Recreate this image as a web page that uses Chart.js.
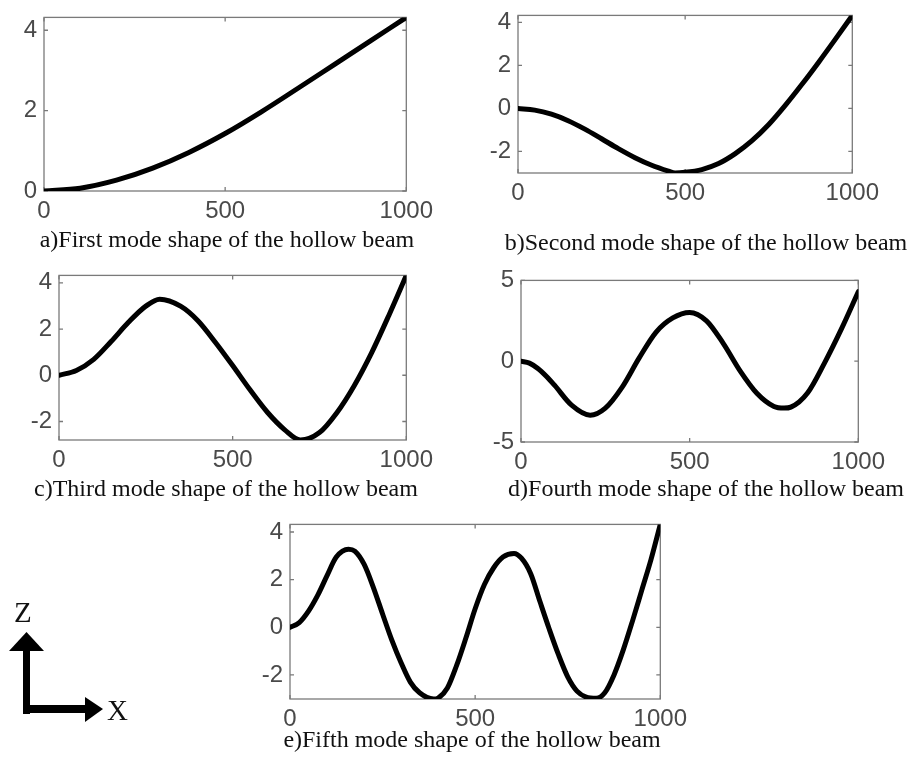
<!DOCTYPE html>
<html>
<head>
<meta charset="utf-8">
<script src="https://cdn.jsdelivr.net/npm/chart.js@4"></script>
<style>
  html, body { margin: 0; padding: 0; background: #fff; }
  #page { position: relative; width: 912px; height: 759px; overflow: hidden; }
  canvas { position: absolute; }
  .cap { position: absolute; font-family: "Liberation Serif", "Times New Roman", serif; font-size: 24px;
         line-height: 24px; color: #111; white-space: nowrap; transform: translateX(-50%); }
  .axlab { position: absolute; font-family: "Liberation Serif", "Times New Roman", serif; font-size: 29px;
           line-height: 29px; color: #111; }
</style>
</head>
<body>
<div id="page">
  <canvas id="modeA"></canvas>
  <canvas id="modeB"></canvas>
  <canvas id="modeC"></canvas>
  <canvas id="modeD"></canvas>
  <canvas id="modeE"></canvas>

  <div class="cap" style="left:227px; top:227px;">a)First mode shape of the hollow beam</div>
  <div class="cap" style="left:706px; top:230px;">b)Second mode shape of the hollow beam</div>
  <div class="cap" style="left:226px; top:476px;">c)Third mode shape of the hollow beam</div>
  <div class="cap" style="left:706px; top:476px;">d)Fourth mode shape of the hollow beam</div>
  <div class="cap" style="left:472px; top:727px;">e)Fifth mode shape of the hollow beam</div>

  <!-- coordinate triad -->
  <svg style="position:absolute; left:0; top:0;" width="140" height="759">
    <rect x="23" y="648" width="7" height="66" fill="#000"/>
    <rect x="23" y="705" width="63" height="8" fill="#000"/>
    <polygon points="26.5,632 9,651 44,651" fill="#000"/>
    <polygon points="103,709 85,697 85,722" fill="#000"/>
  </svg>
  <div class="axlab" style="left:14px; top:598px;">Z</div>
  <div class="axlab" style="left:107px; top:696px;">X</div>
</div>

<script>
// Position along the beam (mm) and vertical deflection Z for each mode
const xTickValues = [0, 500, 1000];

const mode1X = [0, 100, 200, 300, 400, 500, 600, 700, 800, 900, 1000];
const mode1Z = [0, 0.07, 0.27, 0.57, 0.96, 1.43, 1.97, 2.55, 3.14, 3.73, 4.32];
const mode1Ticks = [0, 2, 4];

const mode2X = [0, 50, 100, 150, 200, 250, 300, 350, 400, 450, 470, 500, 550, 600, 650, 700, 750, 800, 850, 900, 950, 1000];
const mode2Z = [0, -0.08, -0.27, -0.57, -0.96, -1.41, -1.87, -2.29, -2.64, -2.91, -3.0, -2.97, -2.84, -2.56, -2.1, -1.5, -0.75, 0.15, 1.13, 2.16, 3.23, 4.32];
const mode2Ticks = [-2, 0, 2, 4];

const mode3X = [0, 50, 100, 150, 200, 250, 290, 350, 400, 450, 500, 550, 600, 650, 695, 750, 800, 850, 900, 950, 1000];
const mode3Z = [0, 0.21, 0.69, 1.46, 2.29, 2.99, 3.29, 2.99, 2.36, 1.43, 0.42, -0.63, -1.6, -2.36, -2.8, -2.48, -1.62, -0.45, 0.97, 2.6, 4.32];
const mode3Ticks = [-2, 0, 2, 4];

const mode4X = [0, 25, 50, 75, 100, 150, 205, 250, 300, 350, 400, 450, 500, 550, 600, 650, 700, 750, 780, 800, 850, 900, 950, 1000];
const mode4Z = [0, -0.12, -0.45, -0.93, -1.5, -2.72, -3.34, -2.9, -1.6, 0.19, 1.79, 2.68, 3.02, 2.5, 1.09, -0.61, -2.0, -2.8, -2.9, -2.84, -1.95, -0.1, 2.0, 4.3];
const mode4Ticks = [-5, 0, 5];

const mode5X = [0, 25, 50, 75, 100, 125, 158, 175, 200, 225, 250, 275, 300, 325, 350, 388, 400, 425, 450, 475, 500,
                525, 550, 575, 605, 625, 650, 675, 700, 725, 750, 775, 800, 827, 850, 875, 900, 925, 950, 975, 1000];
const mode5Z = [0, 0.2, 0.68, 1.35, 2.17, 2.95, 3.28, 3.2, 2.65, 1.68, 0.56, -0.54, -1.49, -2.3, -2.75, -3.01, -2.97, -2.55, -1.6, -0.45, 0.78,
                1.8, 2.5, 2.95, 3.1, 2.9, 2.25, 1.08, -0.07, -1.15, -2.08, -2.68, -2.93, -2.98, -2.75, -2.0, -0.95, 0.27, 1.56, 2.85, 4.32];
const mode5Ticks = [-2, 0, 2, 4];

// Margins around each plot box inside its canvas
const M = { left: 50, top: 16, right: 32, bottom: 38 };
const TICK_LEN = 4;
const FRAME_COLOR = '#7a7a7a';

// Draws the boxed frame with short inward tick marks on all four sides
const framePlugin = {
  id: 'frameTicks',
  beforeDatasetsDraw(chart) {
    const { ctx, chartArea: a, scales } = chart;
    ctx.save();
    ctx.strokeStyle = FRAME_COLOR;
    ctx.lineWidth = 1.3;
    ctx.strokeRect(a.left, a.top, a.right - a.left, a.bottom - a.top);
    ctx.beginPath();
    scales.x.ticks.forEach(t => {
      const px = scales.x.getPixelForValue(t.value);
      ctx.moveTo(px, a.bottom); ctx.lineTo(px, a.bottom - TICK_LEN);
      ctx.moveTo(px, a.top); ctx.lineTo(px, a.top + TICK_LEN);
    });
    scales.y.ticks.forEach(t => {
      const py = scales.y.getPixelForValue(t.value);
      ctx.moveTo(a.left, py); ctx.lineTo(a.left + TICK_LEN, py);
      ctx.moveTo(a.right, py); ctx.lineTo(a.right - TICK_LEN, py);
    });
    ctx.stroke();
    ctx.restore();
  }
};

function modePanel(id, box, xs, zs, yMin, yMax, yTicks) {
  const canvas = document.getElementById(id);
  const w = box.r - box.l + M.left + M.right;
  const h = box.b - box.t + M.top + M.bottom;
  canvas.width = w; canvas.height = h;
  canvas.style.left = (box.l - M.left) + 'px';
  canvas.style.top = (box.t - M.top) + 'px';
  canvas.style.width = w + 'px';
  canvas.style.height = h + 'px';

  const tickFont = { family: '"Liberation Sans", Arial, sans-serif', size: 24 };
  return new Chart(canvas, {
    type: 'line',
    data: {
      datasets: [{
        data: xs.map((x, i) => ({ x: x, y: zs[i] })),
        borderColor: '#000',
        borderWidth: 5,
        pointRadius: 0,
        fill: false,
        cubicInterpolationMode: 'monotone',
        borderCapStyle: 'round',
        borderJoinStyle: 'round'
      }]
    },
    options: {
      responsive: false,
      devicePixelRatio: 1,
      animation: false,
      events: [],
      layout: { padding: { left: 0, top: M.top, right: M.right, bottom: 0 } },
      plugins: { legend: { display: false }, tooltip: { enabled: false } },
      scales: {
        x: {
          type: 'linear', min: 0, max: 1000,
          afterBuildTicks: s => { s.ticks = xTickValues.map(v => ({ value: v })); },
          afterFit: s => { s.height = M.bottom; },
          grid: { display: false, drawTicks: false },
          border: { display: false },
          ticks: { font: tickFont, color: '#4a4a4a', padding: 6, maxRotation: 0, autoSkip: false,
                   callback: v => String(v) }
        },
        y: {
          type: 'linear', min: yMin, max: yMax,
          afterBuildTicks: s => { s.ticks = yTicks.map(v => ({ value: v })); },
          afterFit: s => { s.width = M.left; },
          grid: { display: false, drawTicks: false },
          border: { display: false },
          ticks: { font: tickFont, color: '#4a4a4a', padding: 7, autoSkip: false,
                   callback: v => String(v) }
        }
      }
    },
    plugins: [framePlugin]
  });
}

modePanel('modeA', { l: 44, t: 12, r: 407, b: 191 }, mode1X, mode1Z, 0, 4.32, mode1Ticks);
modePanel('modeB', { l: 518, t: 10, r: 853, b: 173 }, mode2X, mode2Z, -3.0, 4.32, mode2Ticks);
modePanel('modeC', { l: 59, t: 270, r: 407, b: 440 }, mode3X, mode3Z, -2.8, 4.32, mode3Ticks);
modePanel('modeD', { l: 521, t: 275, r: 859, b: 442 }, mode4X, mode4Z, -5, 5, mode4Ticks);
modePanel('modeE', { l: 290, t: 519, r: 661, b: 699 }, mode5X, mode5Z, -3.01, 4.32, mode5Ticks);
</script>
</body>
</html>
